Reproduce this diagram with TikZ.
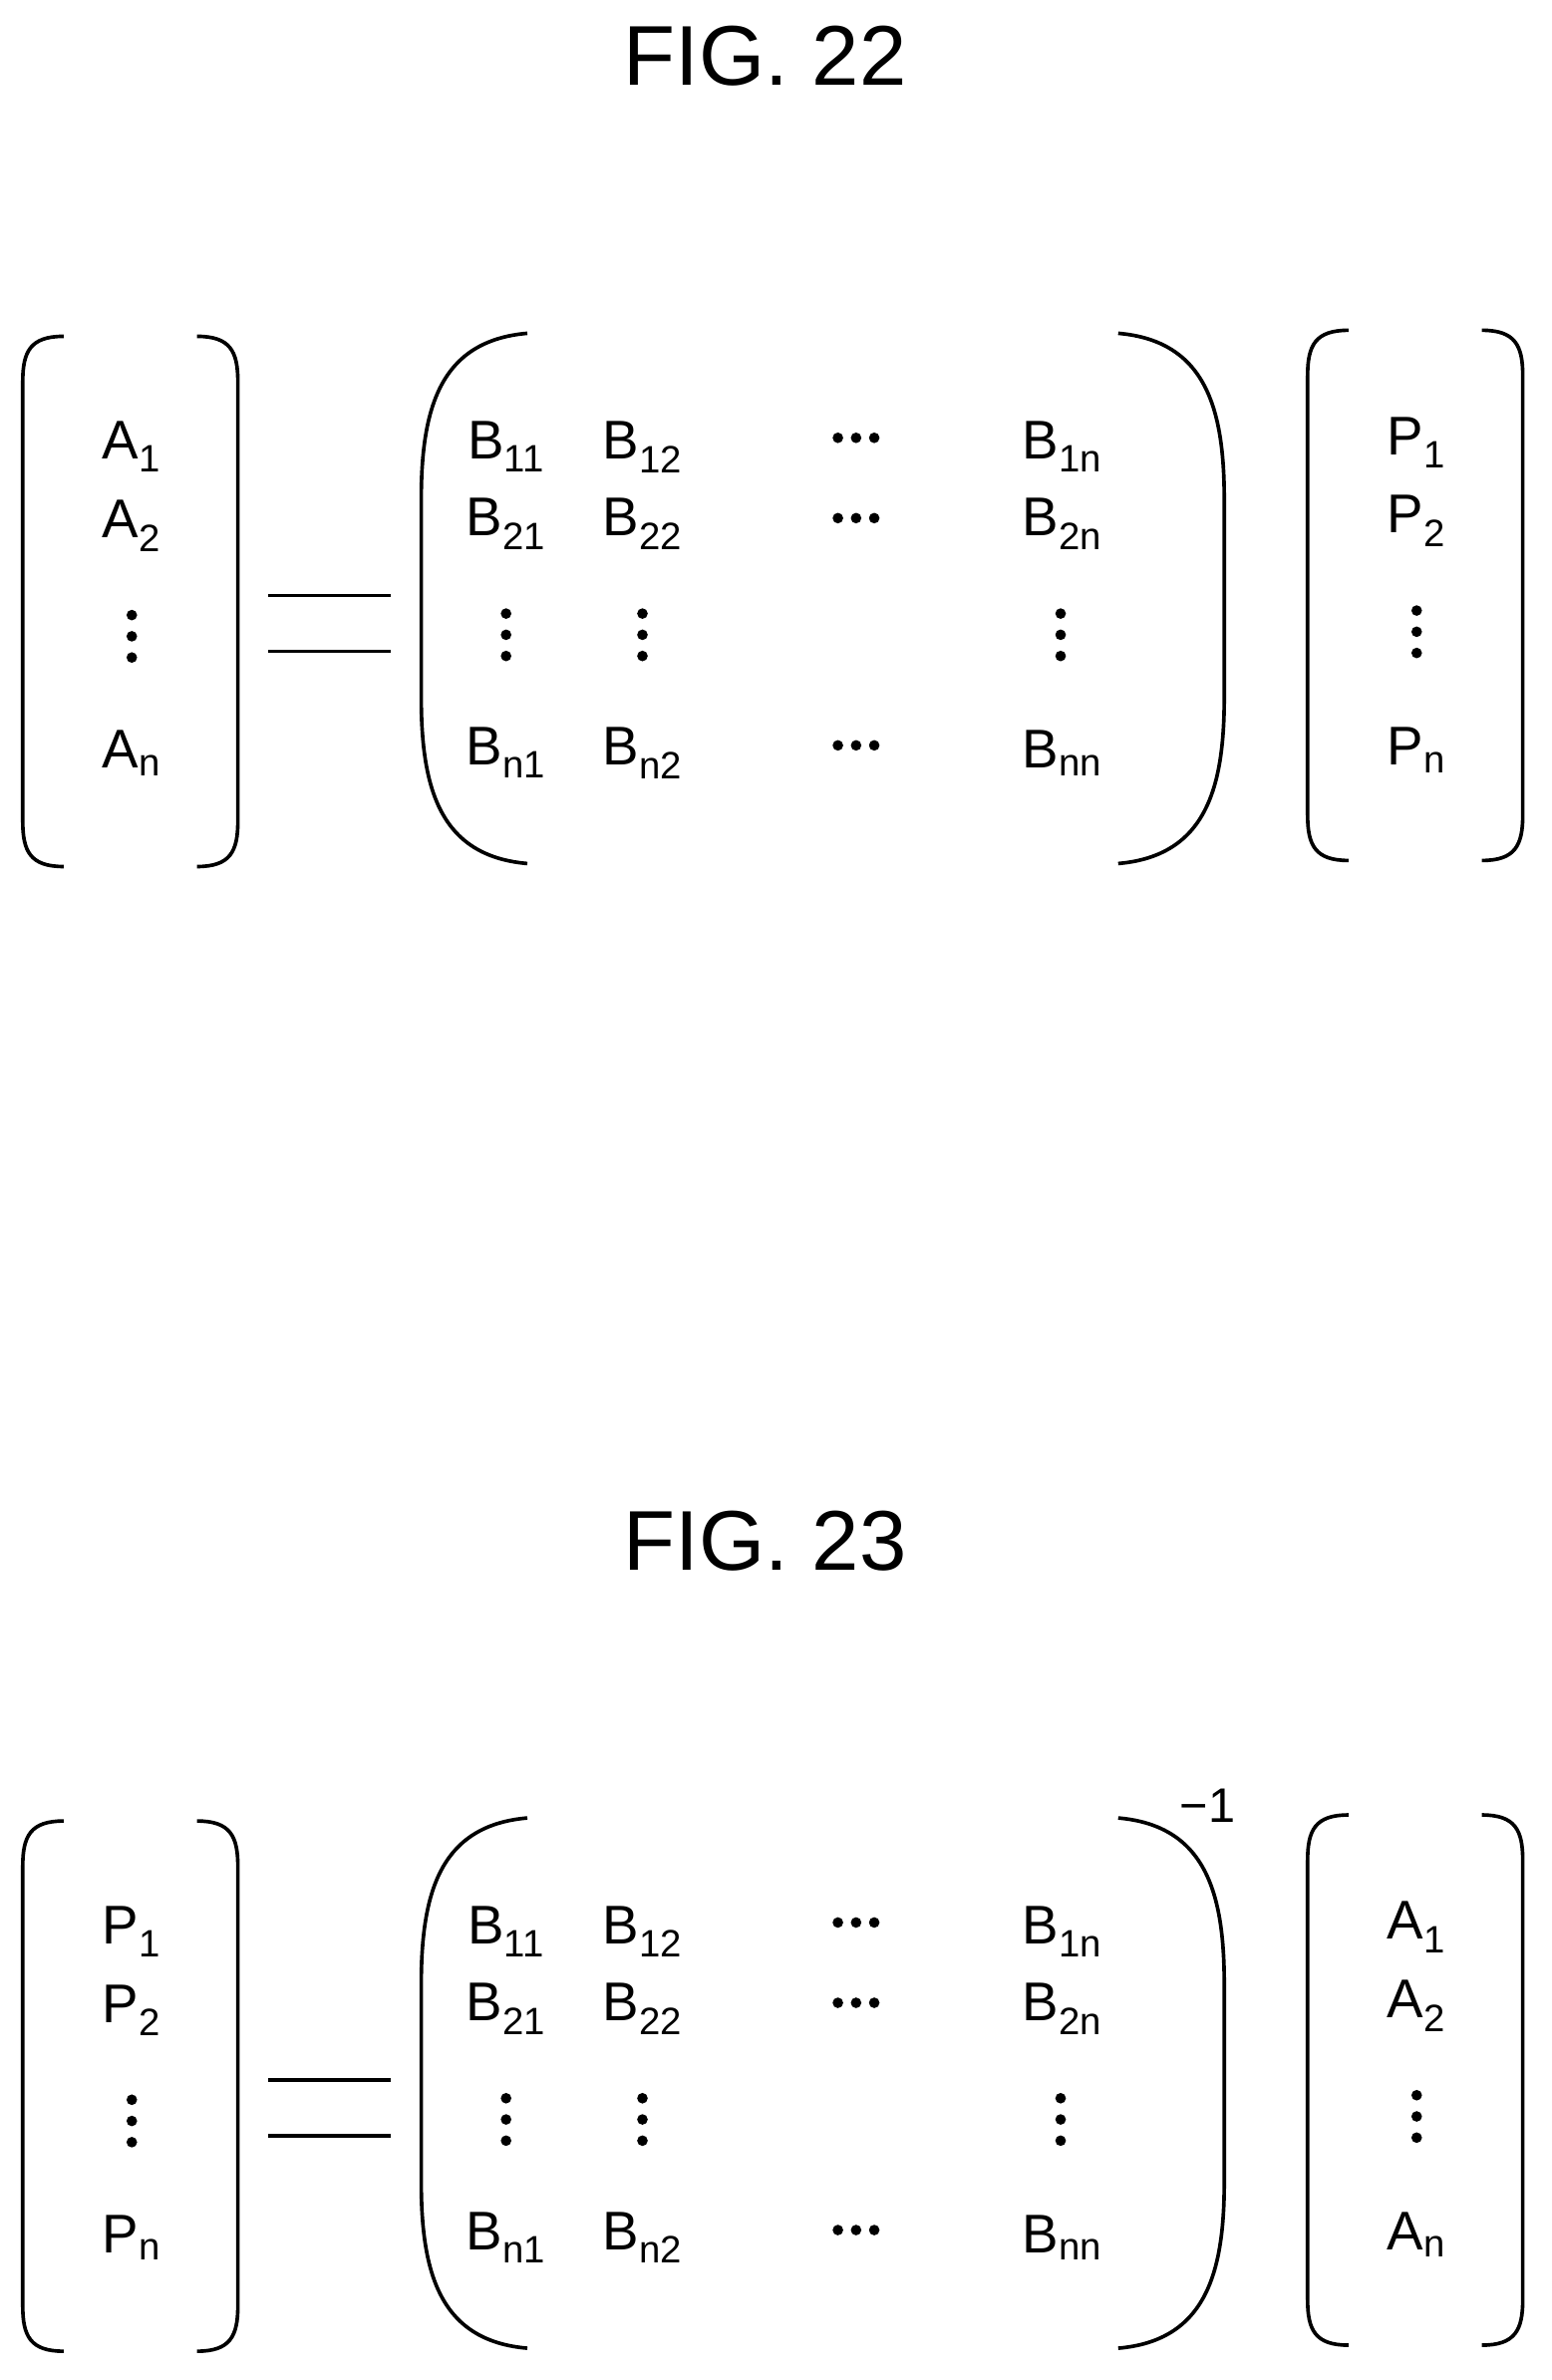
\documentclass[tikz,border=0pt]{standalone}
\usepackage{fontspec}
\setmainfont{Liberation Sans}
\begin{document}
\begin{tikzpicture}[x=1pt,y=-1pt,line width=2.4pt,
  t/.style={font=\fontsize{36}{42}\selectfont,inner sep=0pt},
  ti/.style={font=\fontsize{56}{66}\selectfont,inner sep=0pt},
  dt/.style={fill,circle,inner sep=0pt,minimum size=7pt}]
\useasboundingbox (0,0) rectangle (1024,1571);
\newcommand\vd[2]{\node[dt] at (#1,#2-14){};\node[dt] at (#1,#2){};\node[dt] at (#1,#2+14){};}
\newcommand\hd[2]{\node[dt] at (#1-12,#2){};\node[dt] at (#1,#2){};\node[dt] at (#1+12,#2){};}
\newcommand\sq[4]{% x1 x2 ytop ybot, small brackets
  \draw (#1+27,#3) .. controls (#1+5,#3) and (#1,#3+10) .. (#1,#3+30) -- (#1,#4-30) .. controls (#1,#4-10) and (#1+5,#4) .. (#1+27,#4);
  \draw (#2-27,#3) .. controls (#2-5,#3) and (#2,#3+10) .. (#2,#3+30) -- (#2,#4-30) .. controls (#2,#4-10) and (#2-5,#4) .. (#2-27,#4);}
\newcommand\fig[5]{% offset, title, leftletter, rightletter, inverse
\begin{scope}[shift={(0,#1)}]
\node[ti] (title#2) at (505,37) {FIG. #2};
\sq{15}{157}{222}{572}
\draw (348,220) .. controls (290,225) and (278,270) .. (278,330) -- (278,460) .. controls (278,520) and (290,565) .. (348,570);
\draw (738,220) .. controls (796,225) and (808,270) .. (808,330) -- (808,460) .. controls (808,520) and (796,565) .. (738,570);
\sq{863}{1005}{218}{568}
\draw (177,393) -- (258,393); \draw (177,430) -- (258,430);
\node[t] at (87,295) {#3\textsubscript{1}};
\node[t] at (87,347) {#3\textsubscript{2}};
\vd{87}{420}
\node[t] at (87,497) {#3\textsubscript{n}};
\node[t] at (334,295) {B\textsubscript{11}};
\node[t] at (424,295) {B\textsubscript{12}};
\hd{565}{289}
\node[t] at (701,295) {B\textsubscript{1n}};
\node[t] at (334,346) {B\textsubscript{21}};
\node[t] at (424,346) {B\textsubscript{22}};
\hd{565}{342}
\node[t] at (701,346) {B\textsubscript{2n}};
\vd{334}{419}\vd{424}{419}\vd{700}{419}
\node[t] at (334,497) {B\textsubscript{n1}};
\node[t] at (424,497) {B\textsubscript{n2}};
\hd{565}{492}
\node[t] at (701,497) {B\textsubscript{nn}};
\node[t] at (935,292) {#4\textsubscript{1}};
\node[t] at (935,344) {#4\textsubscript{2}};
\vd{935}{417}
\node[t] at (935,495) {#4\textsubscript{n}};
#5
\end{scope}}
\fig{0}{22}{A}{P}{}
\fig{980}{23}{P}{A}{\node[font=\fontsize{32}{38}\selectfont,inner sep=0pt] at (797,212) {\textminus1};}
\end{tikzpicture}
\end{document}
